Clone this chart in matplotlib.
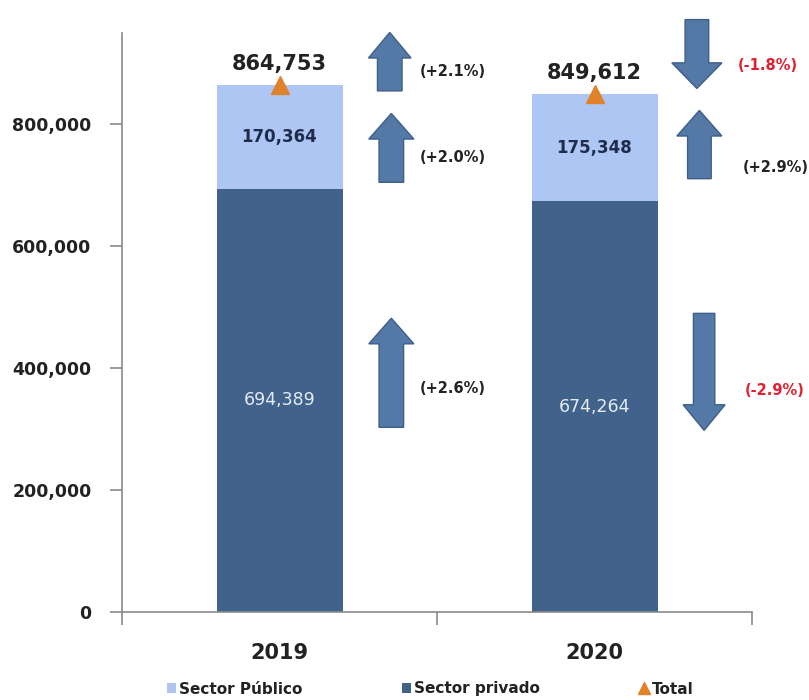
import matplotlib
matplotlib.use("Agg")
import matplotlib.pyplot as plt
from matplotlib.patches import FancyArrow, Patch
from matplotlib.lines import Line2D
from matplotlib.ticker import FuncFormatter
import numpy as np

plt.rcParams['font.family'] = ['DejaVu Sans']

# ---- data ----
years = ['2019', '2020']
sector_privado = [694389, 674264]
sector_publico = [170364, 175348]
total = [864753, 849612]
pct_total = ['(+2.1%)', '(-1.8%)']
pct_publico = ['(+2.0%)', '(+2.9%)']
pct_privado = ['(+2.6%)', '(-2.9%)']
yticks = [0, 200000, 400000, 600000, 800000]

# ---- style ----
c_pub = '#AEC6F3'
c_priv = '#41628A'
c_tri = '#E0822A'
c_arrow = '#5479A6'
c_arrow_edge = '#3E5F8A'
c_red = '#E0202E'
c_dark = '#222222'

fig = plt.figure(figsize=(8.09, 7.0), dpi=100)
ax = fig.add_axes([122/809, 88/700, 630/809, 579/700])

x = np.arange(len(years))
w = 0.40
ax.bar(x, sector_privado, w, color=c_priv, zorder=2)
ax.bar(x, sector_publico, w, bottom=sector_privado, color=c_pub, zorder=2)
ax.plot(x, total, linestyle='none', marker='^', markersize=13, color=c_tri, zorder=4, clip_on=False)

ax.set_xlim(-0.5, 1.5)
ax.set_ylim(0, 950000)

# value labels
for i in range(len(years)):
    ax.text(x[i], sector_privado[i] / 2, f"{sector_privado[i]:,}", ha='center', va='center',
            color='#E4ECF7', fontsize=12.5, zorder=5)
    ax.text(x[i], sector_privado[i] + sector_publico[i] / 2, f"{sector_publico[i]:,}",
            ha='center', va='center', color='#1F2D4D', fontsize=12, fontweight='bold', zorder=5)
    ax.annotate(f"{total[i]:,}", (x[i], total[i]), xytext=(0, 15), textcoords='offset points',
                ha='center', va='center', fontsize=15, fontweight='bold', color=c_dark,
                annotation_clip=False, zorder=5)

# arrows: (category, x offset, y_from, y_to, shaft width, head width)
arrows = [
    (0, 0.35, 855000, 951000, 0.078, 0.135),
    (0, 0.355, 705000, 818000, 0.078, 0.143),
    (0, 0.355, 303000, 482000, 0.078, 0.143),
    (1, 0.325, 972000, 859000, 0.075, 0.159),
    (1, 0.333, 711000, 823000, 0.075, 0.143),
    (1, 0.348, 490000, 298000, 0.068, 0.133),
]
for cat, dx, y0, y1, sw, hw in arrows:
    a = FancyArrow(x[cat] + dx, y0, 0, y1 - y0, width=sw, head_width=hw, head_length=42000,
                   length_includes_head=True, fc=c_arrow, ec=c_arrow_edge, lw=1.0,
                   clip_on=False, zorder=3)
    ax.add_patch(a)

# percentage labels
def pct_color(s):
    return c_red if s.startswith('(-') else c_dark

pct_pos = [
    (0, 0.446, 887000, pct_total[0]),
    (0, 0.446, 746000, pct_publico[0]),
    (0, 0.446, 367000, pct_privado[0]),
    (1, 0.456, 897000, pct_total[1]),
    (1, 0.472, 730000, pct_publico[1]),
    (1, 0.478, 364000, pct_privado[1]),
]
for cat, dx, yv, s in pct_pos:
    ax.text(x[cat] + dx, yv, s, ha='left', va='center', fontsize=10.5, fontweight='bold',
            color=pct_color(s), clip_on=False, zorder=5)

# axes styling
for sp in ['top', 'right']:
    ax.spines[sp].set_visible(False)
for sp in ['left', 'bottom']:
    ax.spines[sp].set_color('#8A8A8A')
    ax.spines[sp].set_linewidth(1.2)

ax.set_yticks(yticks)
ax.yaxis.set_major_formatter(FuncFormatter(lambda v, p: f"{int(v):,}"))
ax.tick_params(axis='y', length=9, width=1.2, color='#8A8A8A', pad=13, labelsize=12.5, labelcolor=c_dark)
for lab in ax.get_yticklabels():
    lab.set_fontweight('bold')

ax.set_xticks(x)
ax.set_xticklabels(years, fontsize=15, fontweight='bold', color=c_dark)
ax.set_xticks([-0.5, 0.5, 1.5], minor=True)
ax.tick_params(axis='x', which='major', length=0, pad=22)
ax.tick_params(axis='x', which='minor', length=9, width=1.2, color='#8A8A8A')

# legend
handles = [
    Patch(facecolor=c_pub, edgecolor='none'),
    Patch(facecolor=c_priv, edgecolor='none'),
    Line2D([], [], linestyle='none', marker='^', markersize=8, color=c_tri),
]
labels = ['Sector Público', 'Sector privado', 'Total']
fig.legend(handles, labels, loc='center', bbox_to_anchor=(430/809, 11/700), ncol=3,
           frameon=False, prop={'size': 11, 'weight': 'bold'}, handlelength=0.6,
           handleheight=0.6, handletextpad=0.2, columnspacing=6.5, labelcolor=c_dark)

fig.savefig('out.png', dpi=100)
